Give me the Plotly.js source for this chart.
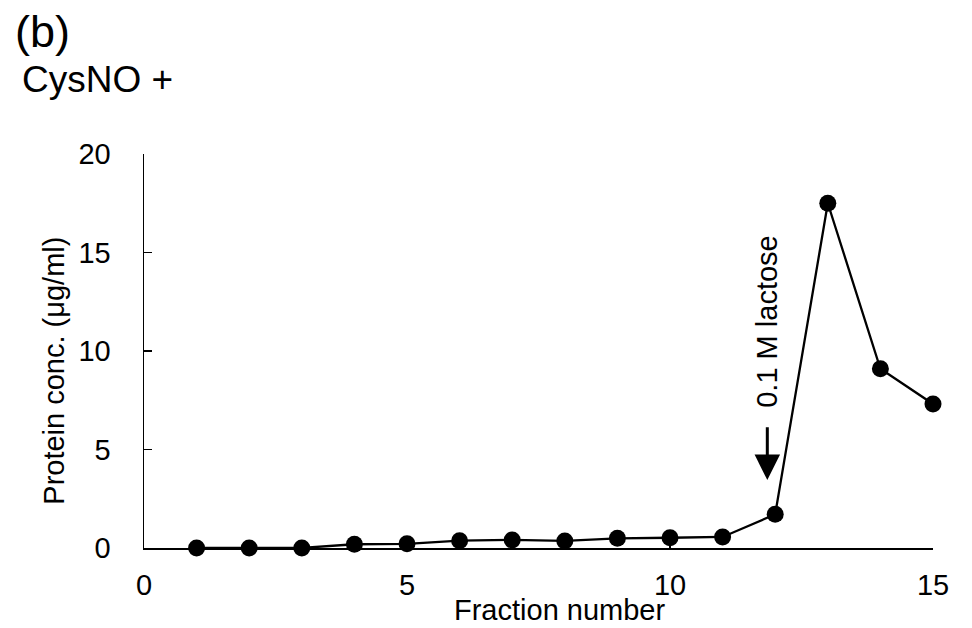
<!DOCTYPE html>
<html>
<head>
<meta charset="utf-8">
<script src="https://cdn.plot.ly/plotly-3.0.1.min.js"></script>
<style>html,body{margin:0;padding:0;background:#fff;}#chart{width:972px;height:628px;}</style>
</head>
<body>
<div id="chart"></div>
<script>
const fractions = [1, 2, 3, 4, 5, 6, 7, 8, 9, 10, 11, 12, 13, 14, 15];
const protein = [0, 0, 0, 0.19, 0.21, 0.37, 0.41, 0.36, 0.49, 0.52, 0.56, 1.71, 17.5, 9.1, 7.31];
const xTicks = [0, 5, 10, 15];
const yTicks = [0, 5, 10, 15, 20];
const panelLabel = "(b)";
const conditionLabel = "CysNO +";
const xTitle = "Fraction number";
const yTitle = "Protein conc. (\u03bcg/ml)";
const arrowLabel = "0.1 M lactose";
const arrowX = 11.85;
const arrowHeadY = 3.45;
const arrowTailY = 6.2;
const arrowLabelY = 11.5;
const yTitleCenter = 9.0;

const FONT = "Liberation Sans, Arial, sans-serif";
const FS = 29;

const trace = {
  x: fractions,
  y: protein,
  type: "scatter",
  mode: "lines+markers",
  line: {color: "#000", width: 2.3},
  marker: {color: "#000", size: 17},
  cliponaxis: false,
  showlegend: false
};

const layout = {
  width: 972,
  height: 628,
  margin: {l: 144, r: 39, t: 154, b: 80},
  paper_bgcolor: "#fff",
  plot_bgcolor: "#fff",
  font: {family: FONT, size: FS, color: "#000"},
  xaxis: {
    range: [0, 15],
    tickvals: xTicks,
    ticktext: xTicks.map(String),
    ticks: "inside",
    ticklen: 8,
    tickwidth: 1.5,
    tickcolor: "#000",
    showline: true,
    linecolor: "#000",
    linewidth: 1.5,
    showgrid: false,
    zeroline: false,
    tickfont: {family: FONT, size: FS, color: "#000"},
    ticklabelstandoff: 11,
    fixedrange: true
  },
  yaxis: {
    range: [0, 20],
    tickvals: yTicks,
    ticktext: yTicks.map(String),
    ticks: "inside",
    ticklen: 8,
    tickwidth: 1.5,
    tickcolor: "#000",
    showline: true,
    linecolor: "#000",
    linewidth: 1.5,
    showgrid: false,
    zeroline: false,
    tickfont: {family: FONT, size: FS, color: "#000"},
    ticklabelstandoff: 26,
    automargin: false,
    fixedrange: true
  },
  annotations: [
    {xref: "paper", yref: "paper", x: 0.5, y: 0, xanchor: "center", yanchor: "top",
     text: xTitle, showarrow: false, yshift: -44, xshift: 21,
     font: {family: FONT, size: FS, color: "#000"}},
    {xref: "paper", yref: "y", x: 0, y: yTitleCenter, xanchor: "center", yanchor: "middle",
     text: yTitle, textangle: -90, showarrow: false, xshift: -90,
     font: {family: FONT, size: FS, color: "#000"}},
    {xref: "x", yref: "y", x: arrowX, y: arrowHeadY, ax: arrowX, ay: arrowTailY,
     axref: "x", ayref: "y", text: "", showarrow: true,
     arrowhead: 2, arrowsize: 1.7, arrowwidth: 3, arrowcolor: "#000"},
    {xref: "x", yref: "y", x: arrowX, y: arrowLabelY, text: arrowLabel, textangle: -90,
     showarrow: false, xanchor: "center", yanchor: "middle",
     font: {family: FONT, size: FS, color: "#000"}},
    {xref: "paper", yref: "paper", x: 0, y: 1, xanchor: "left", yanchor: "middle",
     text: panelLabel, showarrow: false, xshift: -131, yshift: 123,
     font: {family: FONT, size: 45, color: "#000"}},
    {xref: "paper", yref: "paper", x: 0, y: 1, xanchor: "left", yanchor: "middle",
     text: conditionLabel, showarrow: false, xshift: -124, yshift: 75,
     font: {family: FONT, size: 37, color: "#000"}}
  ]
};

Plotly.newPlot("chart", [trace], layout, {displayModeBar: false, staticPlot: true});
</script>
</body>
</html>
